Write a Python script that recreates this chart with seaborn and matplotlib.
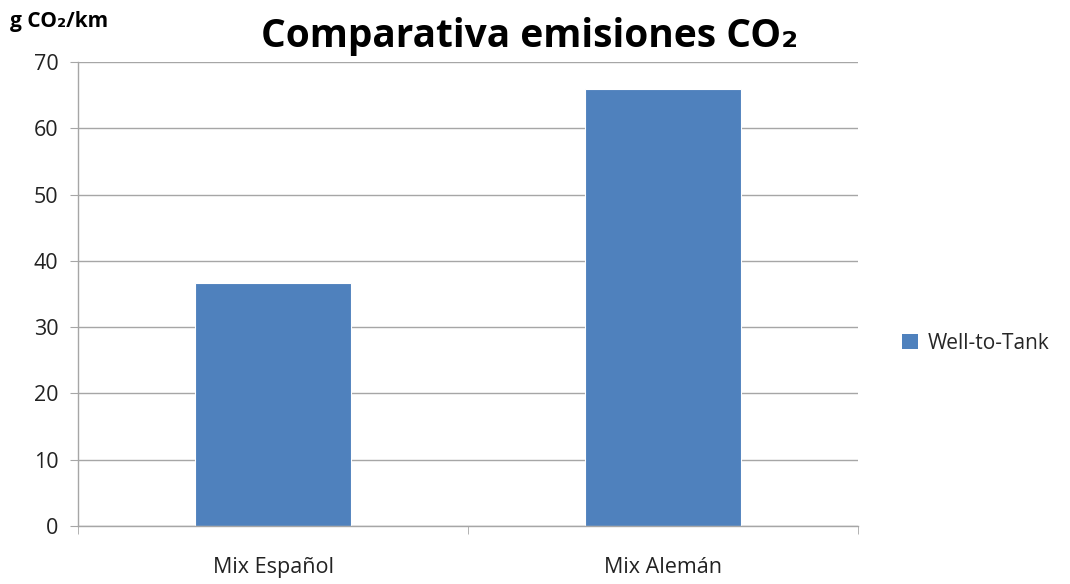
import pandas as pd
import matplotlib.pyplot as plt
import seaborn as sns
from matplotlib.patches import Patch

categories = ['Mix Español', 'Mix Alemán']
well_to_tank = [36.7, 66.0]
series_name = 'Well-to-Tank'

df = pd.DataFrame({'mix': categories, 'emisiones': well_to_tank})

sns.set_style('white')
plt.rcParams['font.family'] = ['Open Sans', 'DejaVu Sans']

bar_color = '#4F81BD'
grid_color = '#A6A6A6'

fig = plt.figure(figsize=(10.7, 5.84), dpi=100)
ax = fig.add_axes([0.0729, 0.0993, 0.729, 0.7945])

sns.barplot(ax=ax, data=df, x='mix', y='emisiones', color=bar_color,
            width=0.4, saturation=1, edgecolor='white', linewidth=0.8)

ax.set_xlim(-0.5, 1.5)
ax.set_ylim(0, 70)
ax.set_yticks(range(0, 71, 10))
ax.yaxis.grid(True, color=grid_color, linewidth=1)
ax.set_axisbelow(True)
ax.set_xlabel('')
ax.set_ylabel('')

for side in ['top', 'right']:
    ax.spines[side].set_visible(False)
for side in ['left', 'bottom']:
    ax.spines[side].set_color(grid_color)
    ax.spines[side].set_linewidth(1)

ax.tick_params(axis='y', which='major', left=True, length=6, color=grid_color,
               labelsize=15.5, pad=8, labelcolor='#222222')
ax.tick_params(axis='x', which='major', bottom=False, labelsize=15.5, pad=19,
               labelcolor='#222222')
ax.set_xticks([-0.5, 0.5, 1.5], minor=True)
ax.tick_params(axis='x', which='minor', bottom=True, length=6, color=grid_color)

fig.text(0.495, 0.937, 'Comparativa emisiones CO₂', ha='center', va='center',
         fontsize=28, fontweight='bold', color='black')
fig.text(0.009, 0.963, 'g CO₂/km', ha='left', va='center',
         fontsize=15, fontweight='bold', color='black')

handles = [Patch(facecolor=bar_color, edgecolor='none', label=series_name)]
fig.legend(handles=handles, loc='center left', bbox_to_anchor=(0.843, 0.412),
           frameon=False, fontsize=15, handlelength=0.75, handleheight=0.75,
           handletextpad=0.5, borderpad=0, borderaxespad=0)

fig.savefig('out.png', dpi=100)
